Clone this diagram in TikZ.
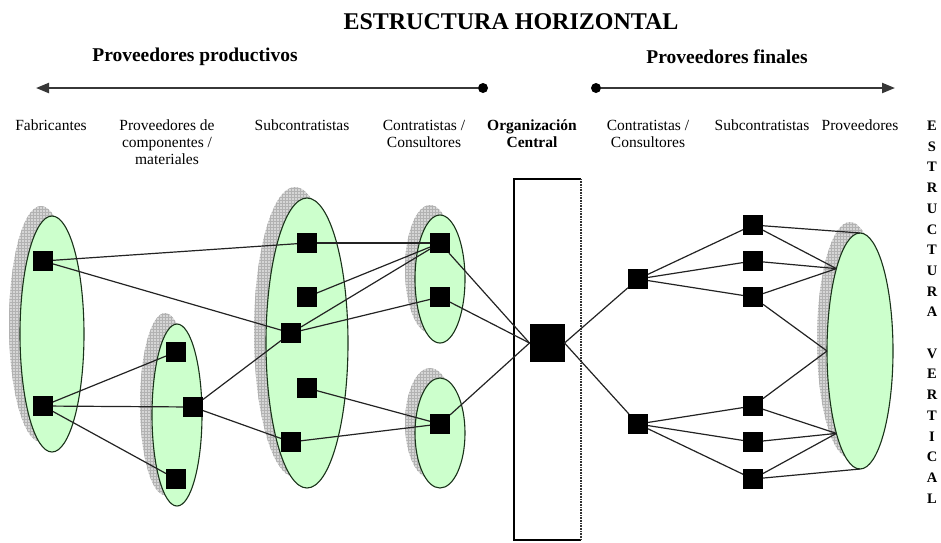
\documentclass[tikz,border=0pt]{standalone}
\usepackage{fontspec}
\setmainfont{Liberation Serif}
\usetikzlibrary{shapes.geometric,patterns,arrows.meta}

\definecolor{groupfill}{RGB}{204,255,204}
\definecolor{groupedge}{RGB}{25,50,25}
\definecolor{linkgray}{RGB}{35,35,35}
\definecolor{axisgray}{RGB}{55,55,55}

\begin{document}
\begin{tikzpicture}[x=1pt,y=-1pt,
  every node/.style={inner sep=0pt, outer sep=0pt},
  sq/.style={fill=black, minimum size=20pt},
  bigsq/.style={fill=black, minimum width=35pt, minimum height=38pt},
  grp/.style={ellipse, draw=groupedge, line width=1.1pt, fill=groupfill},
  grpshadow/.style={ellipse, fill=gray!32,
    postaction={pattern=grid, pattern color=gray!60}},
  link/.style={draw=linkgray, line width=1.2pt},
  axis/.style={draw=axisgray, line width=2.2pt},
  axisdot/.style={circle, fill=black, minimum size=10pt},
  colhead/.style={font=\fontsize{15.5}{17}\selectfont, align=center, anchor=north},
  colheadb/.style={colhead, font=\fontsize{15.5}{17}\selectfont\bfseries},
  sidehead/.style={font=\fontsize{19.5}{22}\selectfont\bfseries},
  boxline/.style={draw=black, line width=2pt},
  boxdots/.style={draw=black!80, line width=2.2pt, dash pattern=on 0.8pt off 0.8pt}
]
\useasboundingbox (0,0) rectangle (941,542);

% headings
\node[font=\fontsize{24}{28}\selectfont\bfseries] (title) at (511,22) {ESTRUCTURA HORIZONTAL};
\node[sidehead] (prodhead) at (195,57) {Proveedores productivos};
\node[sidehead] (finhead) at (727,57) {Proveedores finales};

% horizontal axes
\node[axisdot] (ldot) at (483,88) {};
\coordinate (ltip) at (36,88);
\draw[axis, -{Triangle[length=13pt,width=10pt]}] (ldot) -- (ltip);
\node[axisdot] (rdot) at (596,88) {};
\coordinate (rtip) at (895,88);
\draw[axis, -{Triangle[length=13pt,width=10pt]}] (rdot) -- (rtip);

% column headings
\node[colhead] (hfab) at (51,120) {Fabricantes};
\node[colhead] (hcomp) at (167,120) {Proveedores de\\componentes /\\materiales};
\node[colhead] (hsub) at (302,120) {Subcontratistas};
\node[colhead] (hcon) at (424,120) {Contratistas /\\Consultores};
\node[colheadb] (horg) at (532,120) {Organización\\Central};
\node[colhead] (hcon2) at (648,120) {Contratistas /\\Consultores};
\node[colhead] (hsub2) at (762,120) {Subcontratistas};
\node[colhead] (hprov) at (860,120) {Proveedores};

% vertical heading
\node[font=\fontsize{14.5}{20.7}\selectfont\bfseries, align=center, anchor=north] (vert) at (932,121)
  {E\\S\\T\\R\\U\\C\\T\\U\\R\\A\\\mbox{}\\V\\E\\R\\T\\I\\C\\A\\L};

% shadows of the groups
\node[grpshadow, minimum width=64pt, minimum height=236pt] (fabS) at (41,324) {};
\node[grpshadow, minimum width=50pt, minimum height=182pt] (compS) at (165,404) {};
\node[grpshadow, minimum width=82pt, minimum height=290pt] (subS) at (295,332) {};
\node[grpshadow, minimum width=50pt, minimum height=128pt] (conaS) at (430,269) {};
\node[grpshadow, minimum width=50pt, minimum height=110pt] (conbS) at (430,423) {};
\node[grpshadow, minimum width=66pt, minimum height=236pt] (provS) at (850,340) {};

% groups
\node[grp, minimum width=64pt, minimum height=236pt] (fab) at (52,334) {};
\node[grp, minimum width=50pt, minimum height=182pt] (comp) at (177,415) {};
\node[grp, minimum width=82pt, minimum height=290pt] (sub) at (307,343) {};
\node[grp, minimum width=50pt, minimum height=128pt] (cona) at (440,279) {};
\node[grp, minimum width=50pt, minimum height=110pt] (conb) at (440,433) {};
\node[grp, minimum width=66pt, minimum height=236pt] (prov) at (860,351) {};

% central organisation box
\node[fill=white, minimum width=67pt, minimum height=361pt] (orgbox) at (547.5,359.5) {};
\draw[boxline] (orgbox.north east) -- (orgbox.north west) -- (orgbox.south west) -- (orgbox.south east);
\draw[boxdots] (orgbox.north east) -- (orgbox.south east);

% members
\node[sq] (f1) at (43,261) {};
\node[sq] (f2) at (43,406) {};
\node[sq] (p1) at (176,352) {};
\node[sq] (p2) at (193,407) {};
\node[sq] (p3) at (176,479) {};
\node[sq] (s1) at (307,243) {};
\node[sq] (s2) at (307,297) {};
\node[sq] (s3) at (291,333) {};
\node[sq] (s4) at (307,388) {};
\node[sq] (s5) at (291,442) {};
\node[sq] (c1) at (440,243) {};
\node[sq] (c2) at (440,297) {};
\node[sq] (c3) at (440,424) {};
\node[bigsq] (org) at (547,343) {};
\node[sq] (r1) at (638,279) {};
\node[sq] (r2) at (638,424) {};
\node[sq] (t1) at (753,225) {};
\node[sq] (t2) at (753,261) {};
\node[sq] (t3) at (753,297) {};
\node[sq] (t4) at (753,406) {};
\node[sq] (t5) at (753,442) {};
\node[sq] (t6) at (753,479) {};

% productive supply links
\draw[link] (f1) -- (s1);
\draw[link] (f1) -- (s3);
\draw[link] (f2) -- (p1);
\draw[link] (f2) -- (p2);
\draw[link] (f2) -- (p3);
\draw[link] (p2) -- (s3);
\draw[link] (p2) -- (s5);
\draw[link] (s1) -- (c1);
\draw[link] (s2) -- (c1);
\draw[link] (s3) -- (c1);
\draw[link] (s3) -- (c2);
\draw[link] (s4) -- (c3);
\draw[link] (s5) -- (c3);
\draw[link] (c1) -- (org.west);
\draw[link] (c2) -- (org.west);
\draw[link] (c3) -- (org.west);

% final supply links
\draw[link] (org.east) -- (r1);
\draw[link] (org.east) -- (r2);
\draw[link] (r1) -- (t1);
\draw[link] (r1) -- (t2);
\draw[link] (r1) -- (t3);
\draw[link] (r2) -- (t4);
\draw[link] (r2) -- (t5);
\draw[link] (r2) -- (t6);
\draw[link] (t1) -- (prov.north);
\draw[link] (t1) -- (prov.106);
\draw[link] (t2) -- (prov.106);
\draw[link] (t3) -- (prov.106);
\draw[link] (t3) -- (prov.west);
\draw[link] (t4) -- (prov.west);
\draw[link] (t4) -- (prov.254);
\draw[link] (t5) -- (prov.254);
\draw[link] (t6) -- (prov.254);
\draw[link] (t6) -- (prov.south);
\end{tikzpicture}
\end{document}
